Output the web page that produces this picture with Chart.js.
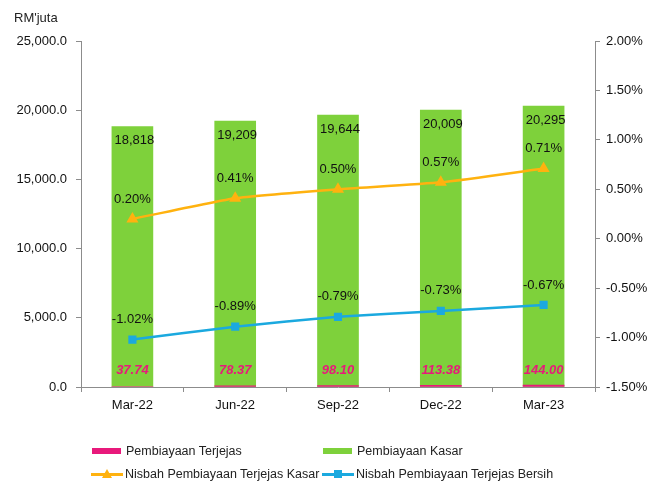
<!DOCTYPE html>
<html>
<head>
<meta charset="utf-8">
<script src="https://cdn.jsdelivr.net/npm/chart.js@4"></script>
<style>
  body { margin: 0; background: #fff; font-family: "Liberation Sans", Arial, sans-serif; }
  #wrap { position: relative; width: 652px; height: 483px; }
  #unit { position: absolute; left: 14px; top: 10px; font-size: 13px; color: #222; }
  .leg { position: absolute; font-size: 12.5px; color: #222; white-space: nowrap; line-height: 14px; }
  .sw { position: absolute; }
</style>
</head>
<body>
<div id="wrap">
  <canvas id="chart" width="652" height="483"></canvas>
  <div id="unit">RM'juta</div>
  <div id="legend"></div>
</div>
<script>
// data
const categories = ['Mar-22', 'Jun-22', 'Sep-22', 'Dec-22', 'Mar-23'];
const impairedFinancing = [37.74, 78.37, 98.10, 113.38, 144.00];
const grossFinancing = [18818, 19209, 19644, 20009, 20295];
const grossImpairedRatio = [0.20, 0.41, 0.50, 0.57, 0.71];
const netImpairedRatio = [-1.02, -0.89, -0.79, -0.73, -0.67];

const PINK = '#E8197B';
const GREEN = '#7ED13B';
const ORANGE = '#FFB20F';
const BLUE = '#1BA9DF';
const AXIS = '#8c8c8c';
const FONT = '"Liberation Sans", Arial, sans-serif';

// simple value labels, drawn after the datasets
const labelPlugin = {
  id: 'valueLabels',
  afterDatasetsDraw(chart) {
    const ctx = chart.ctx;
    ctx.save();
    ctx.textAlign = 'center';
    ctx.textBaseline = 'middle';
    chart.data.datasets.forEach((ds, i) => {
      const meta = chart.getDatasetMeta(i);
      meta.data.forEach((el, j) => {
        const v = ds.data[j];
        if (ds.label === 'Pembiayaan Kasar') {
          ctx.font = '13px ' + FONT;
          ctx.fillStyle = '#111';
          ctx.fillText(v.toLocaleString('en-US'), el.x + 2, el.y + 14);
        } else if (ds.label === 'Pembiayaan Terjejas') {
          ctx.font = 'italic bold 13px ' + FONT;
          ctx.fillStyle = PINK;
          ctx.fillText(v.toFixed(2), el.x, chart.chartArea.bottom - 17);
        } else {
          ctx.font = '13px ' + FONT;
          ctx.fillStyle = '#111';
          ctx.fillText(v.toFixed(2) + '%', el.x, el.y - 20);
        }
      });
    });
    ctx.restore();
  }
};

new Chart(document.getElementById('chart').getContext('2d'), {
  type: 'bar',
  data: {
    labels: categories,
    datasets: [
      {
        type: 'line',
        label: 'Nisbah Pembiayaan Terjejas Kasar',
        data: grossImpairedRatio,
        yAxisID: 'y1',
        borderColor: ORANGE,
        backgroundColor: ORANGE,
        borderWidth: 2.5,
        pointStyle: 'triangle',
        pointRadius: 4.5,
        tension: 0.15,
        order: 0
      },
      {
        type: 'line',
        label: 'Nisbah Pembiayaan Terjejas Bersih',
        data: netImpairedRatio,
        yAxisID: 'y1',
        borderColor: BLUE,
        backgroundColor: BLUE,
        borderWidth: 2.5,
        pointStyle: 'rect',
        pointRadius: 4,
        tension: 0.15,
        order: 0
      },
      {
        label: 'Pembiayaan Terjejas',
        data: impairedFinancing,
        backgroundColor: PINK,
        barThickness: 41,
        grouped: false,
        order: 1
      },
      {
        label: 'Pembiayaan Kasar',
        data: grossFinancing,
        backgroundColor: GREEN,
        barThickness: 41,
        grouped: false,
        order: 2
      }
    ]
  },
  options: {
    responsive: false,
    animation: false,
    layout: { padding: { top: 41, left: 0, right: 0, bottom: 66 } },
    plugins: {
      legend: { display: false },
      tooltip: { enabled: false }
    },
    scales: {
      x: {
        afterFit: s => { s.height = 30; },
        grid: { offset: true, drawOnChartArea: false, drawTicks: true, tickLength: 5, color: AXIS },
        border: { color: AXIS },
        ticks: { color: '#111', padding: 6, font: { family: FONT, size: 13 } }
      },
      y: {
        min: 0,
        max: 25000,
        afterFit: s => { s.width = 81; },
        grid: { drawOnChartArea: false, drawTicks: true, tickLength: 5, color: AXIS },
        border: { color: AXIS },
        ticks: {
          stepSize: 5000,
          padding: 9,
          color: '#111',
          font: { family: FONT, size: 13 },
          callback: v => v.toLocaleString('en-US', { minimumFractionDigits: 1, maximumFractionDigits: 1 })
        }
      },
      y1: {
        position: 'right',
        min: -1.5,
        max: 2.0,
        afterFit: s => { s.width = 57; },
        grid: { drawOnChartArea: false, drawTicks: true, tickLength: 5, color: AXIS },
        border: { color: AXIS },
        ticks: {
          stepSize: 0.5,
          padding: 6,
          color: '#111',
          font: { family: FONT, size: 13 },
          callback: v => (Math.abs(v) < 1e-9 ? 0 : v).toFixed(2) + '%'
        }
      }
    }
  },
  plugins: [labelPlugin]
});

// legend laid out in two columns like the original
const legendItems = [
  { text: 'Pembiayaan Terjejas', kind: 'box', color: PINK, x: 92, y: 451 },
  { text: 'Pembiayaan Kasar', kind: 'box', color: GREEN, x: 323, y: 451 },
  { text: 'Nisbah Pembiayaan Terjejas Kasar', kind: 'tri', color: ORANGE, x: 91, y: 474 },
  { text: 'Nisbah Pembiayaan Terjejas Bersih', kind: 'sq', color: BLUE, x: 322, y: 474 }
];
const legend = document.getElementById('legend');
legendItems.forEach(it => {
  if (it.kind === 'box') {
    legend.insertAdjacentHTML('beforeend',
      `<div class="sw" style="left:${it.x}px;top:${it.y - 3}px;width:29px;height:6px;background:${it.color}"></div>`);
  } else {
    legend.insertAdjacentHTML('beforeend',
      `<div class="sw" style="left:${it.x}px;top:${it.y - 1}px;width:32px;height:2.5px;background:${it.color}"></div>`);
    if (it.kind === 'sq') {
      legend.insertAdjacentHTML('beforeend',
        `<div class="sw" style="left:${it.x + 12}px;top:${it.y - 4}px;width:8px;height:8px;background:${it.color}"></div>`);
    } else {
      legend.insertAdjacentHTML('beforeend',
        `<div class="sw" style="left:${it.x + 11}px;top:${it.y - 5}px;width:0;height:0;border-left:5px solid transparent;border-right:5px solid transparent;border-bottom:9px solid ${it.color}"></div>`);
    }
  }
  legend.insertAdjacentHTML('beforeend',
    `<div class="leg" style="left:${it.x + 34}px;top:${it.y - 7}px">${it.text}</div>`);
});
</script>
</body>
</html>
